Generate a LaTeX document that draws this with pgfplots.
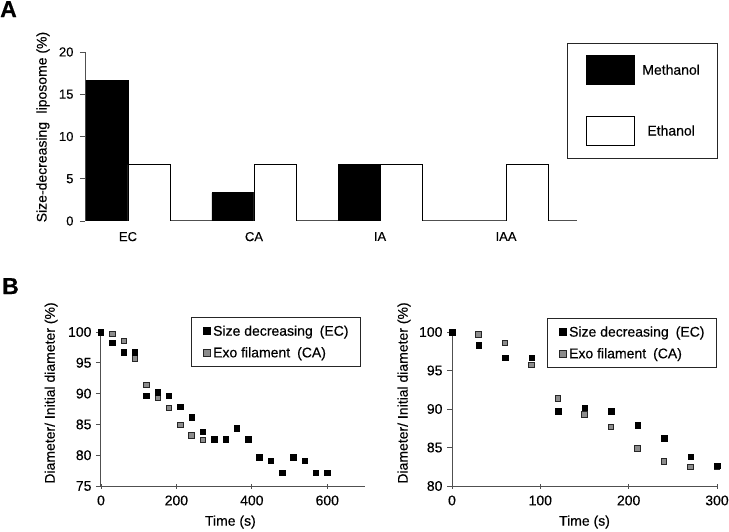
\documentclass[border=0pt]{standalone}
\usepackage{fontspec}
\setmainfont{Liberation Sans}[FakeBold=0.35]
\usepackage{pgfplots}
\pgfplotsset{compat=1.18}
\definecolor{axgray}{RGB}{80,80,80}
\definecolor{mkgray}{RGB}{140,140,140}
\begin{document}
\begin{tikzpicture}
\path[use as bounding box] (0pt,0pt) rectangle (729pt,531pt);

\node[anchor=north west, inner sep=0pt, font=\fontsize{23}{26}\selectfont\bfseries] at (0pt,530pt) {A};
\node[anchor=north west, inner sep=0pt, font=\fontsize{23}{26}\selectfont\bfseries] at (2pt,253pt) {B};

% ---------------- Panel A ----------------
\begin{axis}[
  at={(85pt,310pt)}, anchor=south west, scale only axis,
  width=492pt, height=169pt,
  xmin=-0.341, xmax=3.563, ymin=0, ymax=20,
  ybar=0pt, bar width=42pt,
  axis x line=bottom, axis y line=left,
  axis line style={-, draw=axgray, line width=1pt},
  xtick={0,1,2,3}, xticklabels={EC,CA,IA,IAA},
  xtick style={draw=none},
  ytick={0,5,10,15,20},
  tick align=outside, major tick length=5pt,
  ytick style={draw=axgray, line width=0.8pt},
  /pgf/number format/assume math mode=true,
  tick label style={font=\fontsize{13}{15}\selectfont},
  xticklabel style={yshift=-2.5pt},
  yticklabel style={xshift=-3pt},
  ylabel={Size-decreasing\hspace{0.6em}liposome (\%)},
  ylabel style={font=\fontsize{14}{16}\selectfont, at={(axis description cs:-0.0854,0.556)}, anchor=center},
  legend style={at={(axis description cs:0.9797,1.0533)}, anchor=north west,
    draw=black!85, line width=1pt, fill=white,
    inner xsep=18pt, inner ysep=12pt, row sep=31pt, column sep=8pt,
    nodes={inner sep=0pt, font=\fontsize{14}{16}\selectfont}},
  legend cell align=center,
  legend image code/.code={\draw[#1, draw=black, line width=0.8pt] (0pt,-14.5pt) rectangle (48pt,14.5pt);},
]
\addplot[fill=black, draw=black, line width=0.8pt] coordinates {(0,16.67) (1,3.33) (2,6.67)};
\addplot[fill=white, draw=black, line width=0.8pt] coordinates {(0,6.67) (1,6.67) (2,6.67) (3,6.67)};
\legend{Methanol, Ethanol}
\end{axis}

% ---------------- Panel B left ----------------
\begin{axis}[
  at={(101pt,45pt)}, anchor=south west, scale only axis,
  width=264pt, height=154pt,
  xmin=0, xmax=700, ymin=75, ymax=100,
  clip=false,
  axis x line=bottom, axis y line=left,
  axis line style={-, draw=axgray, line width=1pt},
  xtick={0,200,400,600}, ytick={75,80,85,90,95,100},
  tick align=outside, major tick length=5pt,
  xtick style={draw=axgray, line width=0.8pt, yshift=2.5pt},
  ytick style={draw=axgray, line width=0.8pt},
  /pgf/number format/assume math mode=true,
  tick label style={font=\fontsize{14}{16}\selectfont},
  xticklabel style={yshift=-1pt},
  yticklabel style={xshift=-1pt},
  xlabel={Time (s)},
  xlabel style={font=\fontsize{14}{16}\selectfont, at={(axis description cs:0.49,-0.234)}, anchor=center},
  ylabel={Diameter/ Initial diameter (\%)},
  ylabel style={font=\fontsize{14}{16}\selectfont, at={(axis description cs:-0.189,0.604)}, anchor=center},
  legend style={at={(axis description cs:0.985,1.097)}, anchor=north east,
    draw=black!85, line width=1pt, fill=white,
    inner xsep=12pt, inner ysep=8pt, row sep=10pt, column sep=3pt,
    nodes={inner sep=0pt, font=\fontsize{14}{16}\selectfont}},
  legend cell align=left, reverse legend,
  legend image code/.code={\draw[mark repeat=2,mark phase=2,#1, mark size=3.5pt] plot coordinates {(0pt,0pt) (3.5pt,0pt) (7pt,0pt)};},
]
\addplot[only marks, mark=square*, mark size=2.7pt, mark options={fill=mkgray, draw=black!85, line width=0.7pt}]
coordinates {(0,100) (30,99.7) (60,98.6) (90,95.7) (120,91.4) (150,89.3) (180,87.7) (210,84.9) (240,83.2) (270,82.5) (300,82.5)};
\addlegendentry{Exo filament\hspace{0.5em}(CA)}
\addplot[only marks, mark=square*, mark size=2.7pt, mark options={fill=black, draw=black}]
coordinates {(0,100) (30,98.3) (60,96.7) (90,96.7) (120,89.7) (150,90.2) (180,89.7) (210,87.9) (240,86.2) (270,83.8) (300,82.6) (330,82.6) (360,84.4) (390,82.6) (420,79.7) (450,79.1) (480,77.2) (510,79.7) (540,79.1) (570,77.2) (600,77.2)};
\addlegendentry{Size decreasing\hspace{0.5em}(EC)}
\end{axis}

% ---------------- Panel B right ----------------
\begin{axis}[
  at={(452pt,45pt)}, anchor=south west, scale only axis,
  width=265pt, height=154pt,
  xmin=0, xmax=300, ymin=80, ymax=100,
  clip=false,
  axis x line=bottom, axis y line=left,
  axis line style={-, draw=axgray, line width=1pt},
  xtick={0,100,200,300}, ytick={80,85,90,95,100},
  tick align=outside, major tick length=5pt,
  xtick style={draw=axgray, line width=0.8pt, yshift=2.5pt},
  ytick style={draw=axgray, line width=0.8pt},
  /pgf/number format/assume math mode=true,
  tick label style={font=\fontsize{14}{16}\selectfont},
  xticklabel style={yshift=-1pt},
  yticklabel style={xshift=-1pt},
  xlabel={Time (s)},
  xlabel style={font=\fontsize{14}{16}\selectfont, at={(axis description cs:0.5,-0.234)}, anchor=center},
  ylabel={Diameter/ Initial diameter (\%)},
  ylabel style={font=\fontsize{14}{16}\selectfont, at={(axis description cs:-0.181,0.604)}, anchor=center},
  legend style={at={(axis description cs:1.0,1.091)}, anchor=north east,
    draw=black!85, line width=1pt, fill=white,
    inner xsep=12pt, inner ysep=8pt, row sep=10pt, column sep=3pt,
    nodes={inner sep=0pt, font=\fontsize{14}{16}\selectfont}},
  legend cell align=left, reverse legend,
  legend image code/.code={\draw[mark repeat=2,mark phase=2,#1, mark size=3.5pt] plot coordinates {(0pt,0pt) (3.5pt,0pt) (7pt,0pt)};},
]
\addplot[only marks, mark=square*, mark size=2.7pt, mark options={fill=mkgray, draw=black!85, line width=0.7pt}]
coordinates {(0,100) (30,99.7) (60,98.6) (90,95.7) (120,91.4) (150,89.3) (180,87.7) (210,84.9) (240,83.2) (270,82.5) (300,82.5)};
\addlegendentry{Exo filament\hspace{0.5em}(CA)}
\addplot[only marks, mark=square*, mark size=2.7pt, mark options={fill=black, draw=black}]
coordinates {(0,100) (30,98.3) (60,96.7) (90,96.7) (120,89.7) (150,90.2) (180,89.7) (210,87.9) (240,86.2) (270,83.8) (300,82.6)};
\addlegendentry{Size decreasing\hspace{0.5em}(EC)}
\end{axis}
\end{tikzpicture}
\end{document}
